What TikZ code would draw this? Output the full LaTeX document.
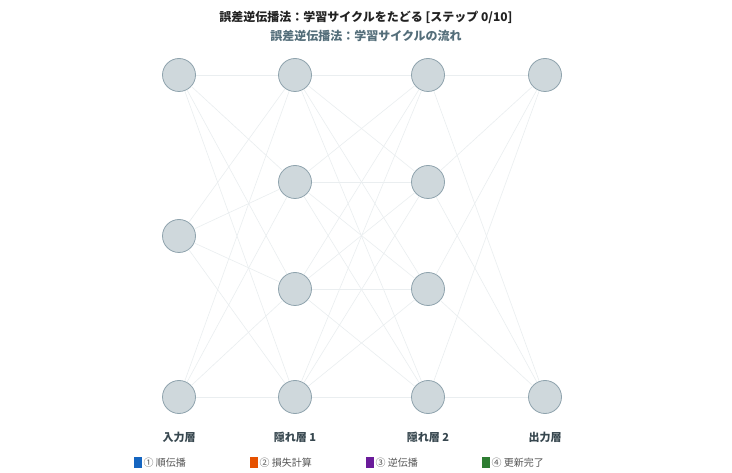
\documentclass[tikz,border=0pt]{standalone}
\usepackage{fontspec}
\setmainfont{Noto Sans CJK JP}
\definecolor{nodefill}{HTML}{CFD8DC}
\definecolor{nodeedge}{HTML}{8FA3AD}
\definecolor{edgecol}{HTML}{EAEEF0}
\definecolor{titlecol}{HTML}{222222}
\definecolor{subcol}{HTML}{546E7A}
\definecolor{labcol}{HTML}{37474F}
\definecolor{legtext}{HTML}{555555}
\definecolor{cblue}{HTML}{1565C0}
\definecolor{corange}{HTML}{E65100}
\definecolor{cpurple}{HTML}{6A1B9A}
\definecolor{cgreen}{HTML}{2E7D32}
\tikzset{
  neuron/.style={circle, draw=nodeedge, fill=nodefill, line width=0.8pt, minimum size=33pt, inner sep=0pt},
  conn/.style={draw=edgecol, line width=0.6pt},
  layerlab/.style={font=\fontsize{11pt}{13pt}\selectfont\bfseries, text=labcol, inner sep=0pt},
  legbox/.style={minimum width=8pt, minimum height=11pt, inner sep=0pt},
  legtxt/.style={font=\fontsize{10pt}{12pt}\selectfont, text=legtext, anchor=west, inner sep=0pt}
}
\begin{document}
\begin{tikzpicture}[x=1pt,y=-1pt]
\useasboundingbox (0,0) rectangle (732,473);
\fill[white] (0,0) rectangle (732,473);
% title
\node[font=\fontsize{12pt}{14pt}\selectfont\bfseries, text=titlecol, inner sep=0pt] (title) at (366,17) {誤差逆伝播法：学習サイクルをたどる [ステップ 0/10]};
\node[font=\fontsize{12pt}{14pt}\selectfont\bfseries, text=subcol, inner sep=0pt] (subtitle) at (366,36) {誤差逆伝播法：学習サイクルの流れ};
% neurons
\node[neuron] (i1) at (179,75) {};
\node[neuron] (i2) at (179,236) {};
\node[neuron] (i3) at (179,397) {};
\node[neuron] (a1) at (295,75) {};
\node[neuron] (a2) at (295,182) {};
\node[neuron] (a3) at (295,289) {};
\node[neuron] (a4) at (295,397) {};
\node[neuron] (b1) at (428,75) {};
\node[neuron] (b2) at (428,182) {};
\node[neuron] (b3) at (428,289) {};
\node[neuron] (b4) at (428,397) {};
\node[neuron] (o1) at (545,75) {};
\node[neuron] (o2) at (545,397) {};
% connections
\foreach \s in {i1,i2,i3}{\foreach \t in {a1,a2,a3,a4}{\draw[conn] (\s) -- (\t);}}
\foreach \s in {a1,a2,a3,a4}{\foreach \t in {b1,b2,b3,b4}{\draw[conn] (\s) -- (\t);}}
\foreach \s in {b1,b2,b3,b4}{\foreach \t in {o1,o2}{\draw[conn] (\s) -- (\t);}}
% layer labels
\node[layerlab] (l1) at (179,437) {入力層};
\node[layerlab] (l2) at (295,437) {隠れ層 1};
\node[layerlab] (l3) at (428,437) {隠れ層 2};
\node[layerlab] (l4) at (545,437) {出力層};
% legend
\node[legbox, fill=cblue] (k1) at (137.5,463) {};
\node[legtxt] (t1) at (143.5,463) {① 順伝播};
\node[legbox, fill=corange] (k2) at (253.5,463) {};
\node[legtxt] (t2) at (259.5,463) {② 損失計算};
\node[legbox, fill=cpurple] (k3) at (369.5,463) {};
\node[legtxt] (t3) at (375.5,463) {③ 逆伝播};
\node[legbox, fill=cgreen] (k4) at (485.5,463) {};
\node[legtxt] (t4) at (491.5,463) {④ 更新完了};
\end{tikzpicture}
\end{document}
